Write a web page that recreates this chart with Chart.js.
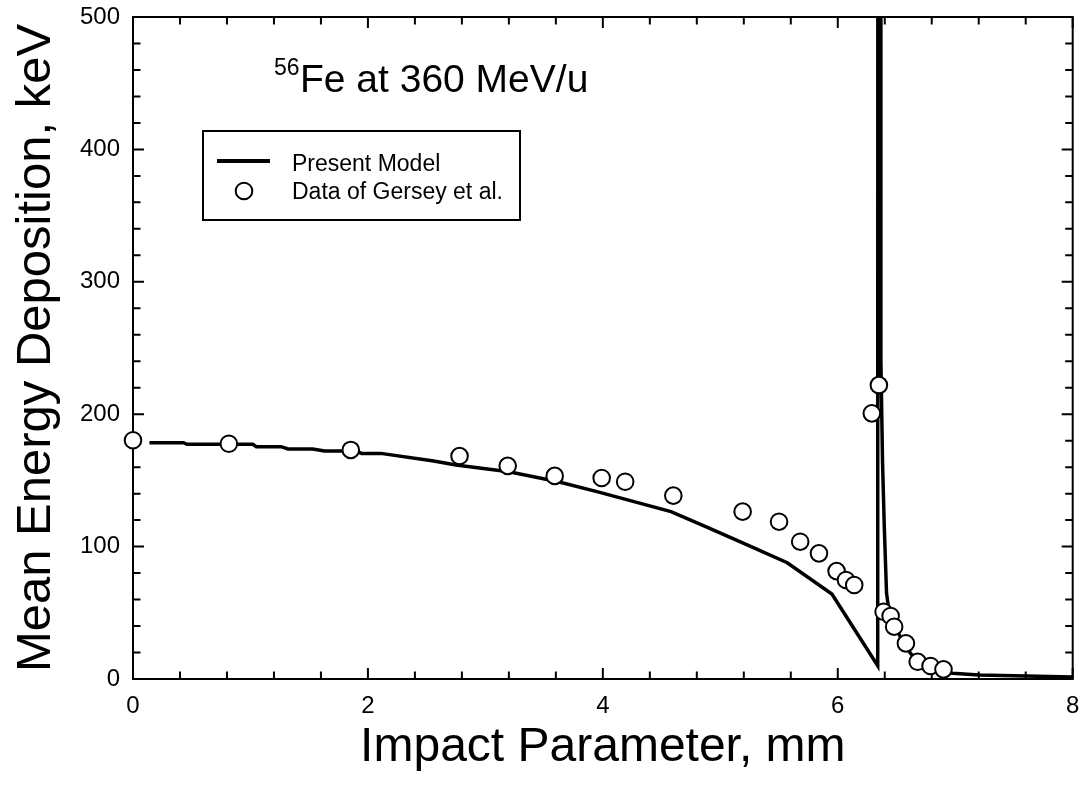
<!DOCTYPE html>
<html><head><meta charset="utf-8">
<script src="https://cdn.jsdelivr.net/npm/chart.js@4.4.1/dist/chart.umd.min.js"></script>
<style>html,body{margin:0;padding:0;background:#fff}#wrap{width:1083px;height:792px}</style>
</head><body><div id="wrap"><canvas id="c" width="1083" height="792"></canvas></div>
<script>
// ---- data ----
const modelX = [0.14,0.43,0.46,1.02,1.05,1.26,1.32,1.53,1.63,1.90,1.945,2.11,2.56,2.75,3.20,3.62,3.95,4.58,4.89,5.20,5.57,5.95,6.34,6.345,6.365,6.367,6.381,6.396,6.415,6.43,6.49,6.57,6.68,6.82,6.98,7.2,7.6,8.0];
const modelY = [178.5,178.5,177.3,177.3,175.5,175.5,173.7,173.7,172.2,172.2,170.4,170.4,164.7,161.6,156.6,149,141.5,126.4,114.5,102.4,87.8,64.2,10,2500,500,240,164,115,65,55,39.5,25,12.5,6,4.3,3,2.3,1.5];
const dataX = [0,0.816,1.854,2.78,3.19,3.59,3.99,4.19,4.6,5.19,5.5,5.68,5.84,5.99,6.07,6.14,6.29,6.35,6.39,6.45,6.48,6.58,6.68,6.79,6.9];
const dataY = [180.3,177.7,173,168.4,161,153.4,151.8,149,138.5,126.4,118.8,103.7,94.9,81.5,74.8,71,200.6,222,50.8,47.6,39.5,26.9,13,9.8,7.3];
const xTicks = [0,2,4,6,8];
const yTicks = [0,100,200,300,400,500];
const modelLabel = 'Present Model';
const dataLabel = 'Data of Gersey et al.';
const annIso = '56';
const annText = 'Fe at 360 MeV/u';
const xTitle = 'Impact Parameter, mm';
const yTitle = 'Mean Energy Deposition, keV';

const FONT = '"Liberation Sans", Arial, Helvetica, sans-serif';

const framePlugin = {
  id: 'frame',
  beforeDatasetsDraw(chart) {
    const {ctx, chartArea: a, scales: {x, y}} = chart;
    ctx.save();
    ctx.strokeStyle = '#000';
    ctx.lineWidth = 2;
    ctx.strokeRect(a.left, a.top, a.right - a.left, a.bottom - a.top);
    const major = 11, minor = 7.5, nMinor = 5;
    const tickSet = (vals) => {
      const out = [];
      for (let i = 0; i < vals.length; i++) {
        out.push([vals[i], true]);
        if (i < vals.length - 1) {
          const st = (vals[i+1] - vals[i]) / nMinor;
          for (let k = 1; k < nMinor; k++) out.push([vals[i] + k * st, false]);
        }
      }
      return out;
    };
    ctx.beginPath();
    tickSet(x.ticks.map(t => t.value)).forEach(([v, m]) => {
      const px = x.getPixelForValue(v), L = m ? major : minor;
      ctx.moveTo(px, a.bottom); ctx.lineTo(px, a.bottom - L);
      ctx.moveTo(px, a.top); ctx.lineTo(px, a.top + L);
    });
    tickSet(y.ticks.map(t => t.value)).forEach(([v, m]) => {
      const py = y.getPixelForValue(v), L = m ? major : minor;
      ctx.moveTo(a.left, py); ctx.lineTo(a.left + L, py);
      ctx.moveTo(a.right, py); ctx.lineTo(a.right - L, py);
    });
    ctx.stroke();
    ctx.restore();
  },
  afterDatasetsDraw(chart) {
    const {ctx, chartArea: a} = chart;
    ctx.save();
    ctx.fillStyle = '#000';
    ctx.textBaseline = 'alphabetic';
    ctx.textAlign = 'left';
    // annotation
    ctx.font = '23px ' + FONT;
    ctx.fillText(annIso, a.left + 141, 75);
    ctx.font = '39px ' + FONT;
    ctx.fillText(annText, a.left + 167, 92);
    // legend box
    const bx = a.left + 70, by = 131, bw = 317, bh = 89;
    ctx.fillStyle = '#fff';
    ctx.fillRect(bx, by, bw, bh);
    ctx.strokeStyle = '#000';
    ctx.lineWidth = 2;
    ctx.strokeRect(bx, by, bw, bh);
    const ds = chart.data.datasets;
    ctx.lineWidth = 4;
    ctx.beginPath();
    ctx.moveTo(bx + 14, 161); ctx.lineTo(bx + 67, 161);
    ctx.stroke();
    ctx.lineWidth = 2;
    ctx.beginPath();
    ctx.arc(bx + 41, 191, 8.3, 0, Math.PI * 2);
    ctx.fillStyle = '#fff'; ctx.fill(); ctx.stroke();
    ctx.fillStyle = '#000';
    ctx.font = '23px ' + FONT;
    ctx.fillText(ds[1].label, bx + 89, 170.5);
    ctx.fillText(ds[0].label, bx + 89, 199);
    ctx.restore();
  }
};

new Chart(document.getElementById('c'), {
  type: 'scatter',
  data: {
    datasets: [
      {
        label: dataLabel,
        data: dataX.map((v, i) => ({x: v, y: dataY[i]})),
        showLine: false,
        pointStyle: 'circle',
        pointRadius: 8.3,
        pointBorderWidth: 2,
        pointBackgroundColor: '#fff',
        pointBorderColor: '#000',
        clip: false,
        order: 0
      },
      {
        label: modelLabel,
        data: modelX.map((v, i) => ({x: v, y: modelY[i]})),
        showLine: true,
        borderColor: '#000',
        borderWidth: 3.5,
        borderJoinStyle: 'miter',
        pointRadius: 0,
        tension: 0,
        clip: 0,
        order: 1
      }
    ]
  },
  options: {
    responsive: false,
    devicePixelRatio: 1,
    animation: false,
    layout: {padding: {left: 0, top: 17, right: 6, bottom: 0}},
    plugins: {legend: {display: false}, tooltip: {enabled: false}},
    scales: {
      x: {
        type: 'linear', min: 0, max: 8,
        afterBuildTicks: (s) => { s.ticks = xTicks.map(v => ({value: v})); },
        ticks: {color: '#000', font: {family: FONT, size: 24}, padding: 13, maxRotation: 0},
        grid: {display: false, drawTicks: false},
        border: {display: false},
        title: {display: true, text: xTitle, color: '#000', font: {family: FONT, size: 48}, padding: {top: 0, bottom: 15}},
        afterFit: (s) => { s.height = 113; s.paddingLeft = 0; s.paddingRight = 0; }
      },
      y: {
        type: 'linear', min: 0, max: 500,
        afterBuildTicks: (s) => { s.ticks = yTicks.map(v => ({value: v})); },
        ticks: {color: '#000', font: {family: FONT, size: 24}, padding: 13},
        grid: {display: false, drawTicks: false},
        border: {display: false},
        title: {display: true, text: yTitle, color: '#000', font: {family: FONT, size: 49}, padding: {top: 7, bottom: 0}},
        afterFit: (s) => { s.width = 133; s.paddingTop = 0; s.paddingBottom = 0; }
      }
    }
  },
  plugins: [framePlugin]
});
</script>
</body></html>
